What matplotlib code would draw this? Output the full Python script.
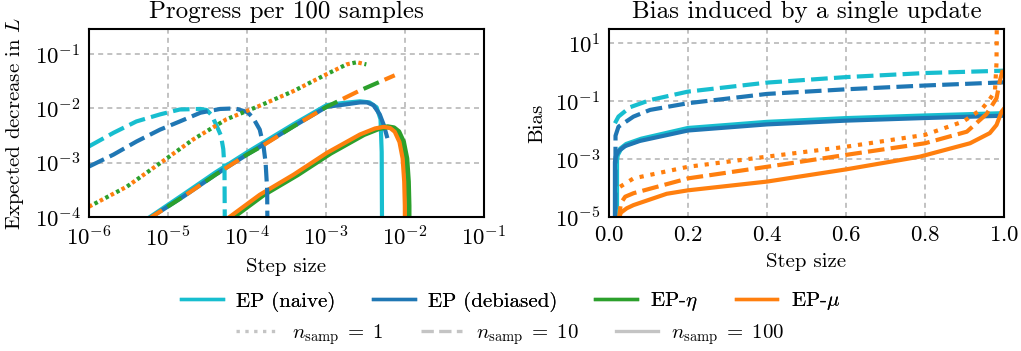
import matplotlib
matplotlib.use("Agg")
import matplotlib.pyplot as plt
from matplotlib.lines import Line2D

# =========================
# DATA
# =========================

# left panel: progress per 100 samples (step size, expected decrease in L)
naive_10_x = [1.0e-6, 2.04e-6, 3.98e-6, 7.94e-6, 1.41e-5, 2.57e-5, 3.09e-5, 3.55e-5,
              4.07e-5, 4.68e-5, 5.01e-5, 5.19e-5, 5.25e-5]
naive_10_y = [2.0e-3, 3.55e-3, 5.75e-3, 7.76e-3, 9.55e-3, 9.77e-3, 9.33e-3, 7.59e-3,
              5.01e-3, 3.16e-3, 1.78e-3, 7.9e-4, 3.2e-5]

debiased_10_x = [1.0e-6, 2.04e-6, 3.98e-6, 7.94e-6, 1.41e-5, 2.57e-5, 4.57e-5, 7.08e-5,
                 1.02e-4, 1.20e-4, 1.45e-4, 1.62e-4, 1.72e-4, 1.80e-4, 1.82e-4]
debiased_10_y = [8.5e-4, 1.41e-3, 2.45e-3, 4.07e-3, 5.75e-3, 8.32e-3, 9.77e-3, 1.0e-2,
                 8.51e-3, 6.61e-3, 4.07e-3, 2.0e-3, 1.0e-3, 3.16e-4, 3.2e-5]

naive_100_x = [5.37e-6, 1.58e-5, 3.98e-5, 1.0e-4, 3.89e-4, 1.02e-3, 1.66e-3, 2.69e-3,
               3.55e-3, 4.37e-3, 4.90e-3, 5.07e-3, 5.13e-3]
naive_100_y = [9.1e-5, 2.63e-4, 6.61e-4, 1.55e-3, 5.13e-3, 1.15e-2, 1.26e-2, 1.35e-2,
               1.29e-2, 1.05e-2, 6.31e-3, 1.58e-3, 3.2e-5]

debiased_100_x = [5.6e-6, 1.58e-5, 3.98e-5, 1.0e-4, 3.89e-4, 1.02e-3, 1.66e-3, 2.69e-3,
                  3.31e-3, 3.98e-3, 4.79e-3, 5.37e-3, 5.89e-3]
debiased_100_y = [9.1e-5, 2.4e-4, 6.0e-4, 1.41e-3, 4.68e-3, 1.07e-2, 1.17e-2, 1.29e-2,
                  1.29e-2, 1.15e-2, 7.76e-3, 5.01e-3, 3.09e-3]

# EP-eta and EP-mu give the same curve for 1 and 10 samples
eta_mu_1_x = [1.0e-6, 3.02e-6, 7.94e-6, 2.09e-5, 5.5e-5, 1.45e-4, 3.89e-4, 1.02e-3,
              1.82e-3, 2.45e-3, 3.24e-3]
eta_mu_1_y = [1.55e-4, 3.63e-4, 9.8e-4, 2.69e-3, 6.31e-3, 1.12e-2, 2.09e-2, 4.27e-2,
              6.46e-2, 7.08e-2, 6.46e-2]

eta_mu_10_x = [5.6e-6, 1.58e-5, 3.98e-5, 1.0e-4, 1.45e-4, 3.89e-4, 1.02e-3, 2.69e-3, 7.41e-3]
eta_mu_10_y = [9.1e-5, 2.4e-4, 6.0e-4, 1.41e-3, 1.91e-3, 4.68e-3, 1.07e-2, 2.14e-2, 4.07e-2]

mu_100_x = [5.5e-5, 1.45e-4, 3.89e-4, 1.02e-3, 2.69e-3, 4.17e-3, 5.37e-3, 6.46e-3, 7.41e-3,
            8.51e-3, 9.33e-3, 9.77e-3, 9.95e-3, 1.0e-2]
mu_100_y = [9.1e-5, 2.57e-4, 6.03e-4, 1.51e-3, 3.31e-3, 4.27e-3, 4.57e-3, 4.37e-3, 3.72e-3,
            2.4e-3, 1.2e-3, 4.5e-4, 1.6e-4, 3.2e-5]

eta_100_x = [6.17e-5, 1.62e-4, 4.37e-4, 1.15e-3, 3.02e-3, 4.68e-3, 6.03e-3, 7.24e-3, 8.32e-3,
             9.55e-3, 1.05e-2, 1.10e-2, 1.12e-2, 1.12e-2]
eta_100_y = [9.1e-5, 2.57e-4, 6.03e-4, 1.51e-3, 3.31e-3, 4.27e-3, 4.57e-3, 4.37e-3, 3.72e-3,
             2.4e-3, 1.2e-3, 4.5e-4, 1.6e-4, 3.2e-5]

# right panel: bias induced by a single update
bias_naive_10_x = [0.015, 0.024, 0.053, 0.104, 0.2, 0.4, 0.6, 0.8, 1.0]
bias_naive_10_y = [1.70e-2, 2.88e-2, 6.03e-2, 0.107, 0.209, 0.427, 0.661, 0.912, 1.10]

bias_debiased_10_x = [0.016, 0.0165, 0.024, 0.062, 0.104, 0.2, 0.4, 0.6, 0.8, 1.0]
bias_debiased_10_y = [3.0e-6, 6.3e-3, 1.29e-2, 2.88e-2, 4.9e-2, 8.32e-2, 0.174, 0.251, 0.339, 0.437]

bias_naive_100_x = [0.019, 0.019, 0.021, 0.029, 0.044, 0.082, 0.2, 0.4, 0.6, 0.8, 1.0]
bias_naive_100_y = [3.2e-6, 8.9e-4, 1.38e-3, 2.19e-3, 3.16e-3, 4.79e-3, 1.12e-2, 1.82e-2,
                    2.45e-2, 3.02e-2, 3.63e-2]

bias_debiased_100_x = [0.015, 0.015, 0.017, 0.025, 0.040, 0.078, 0.2, 0.4, 0.6, 0.8, 1.0]
bias_debiased_100_y = [3.2e-6, 7.9e-4, 1.2e-3, 1.9e-3, 2.75e-3, 4.17e-3, 9.55e-3, 1.55e-2,
                       2.09e-2, 2.57e-2, 3.09e-2]

bias_mu_1_x = [0.028, 0.062, 0.2, 0.4, 0.6, 0.8, 0.897, 0.943, 0.960, 0.977, 0.981, 0.982]
bias_mu_1_y = [1.1e-4, 2.14e-4, 5.37e-4, 1.2e-3, 2.63e-3, 6.76e-3, 1.95e-2, 5.13e-2,
               9.55e-2, 0.209, 2.0, 100.0]

bias_mu_10_x = [0.024, 0.030, 0.041, 0.062, 0.2, 0.4, 0.6, 0.8, 0.906, 0.956, 0.981, 0.990, 0.997]
bias_mu_10_y = [6.3e-6, 3.0e-5, 5.0e-5, 6.6e-5, 2.14e-4, 5.37e-4, 1.38e-3, 3.47e-3,
                8.7e-3, 3.55e-2, 0.123, 0.525, 1.17]

bias_mu_100_x = [0.024, 0.030, 0.045, 0.062, 0.146, 0.2, 0.4, 0.6, 0.787, 0.914, 0.964,
                 0.981, 0.994, 0.998]
bias_mu_100_y = [7.9e-6, 1.41e-5, 2.0e-5, 2.57e-5, 6.3e-5, 8.3e-5, 1.66e-4, 4.37e-4,
                 1.2e-3, 3.47e-3, 7.76e-3, 1.48e-2, 4.27e-2, 5.0e-2]

method_labels = ["EP (naive)", "EP (debiased)", r"EP-$\eta$", r"EP-$\mu$"]
sample_labels = [r"$n_\mathrm{samp}\;=\;1$", r"$n_\mathrm{samp}\;=\;10$",
                 r"$n_\mathrm{samp}\;=\;100$"]

left_xticks = [1e-6, 1e-5, 1e-4, 1e-3, 1e-2, 1e-1]
left_yticks = [1e-4, 1e-3, 1e-2, 1e-1]
right_xticks = [0.0, 0.2, 0.4, 0.6, 0.8, 1.0]
right_yticks = [1e-5, 1e-3, 1e-1, 1e1]

# =========================
# STYLE
# =========================
CYAN = "#17becf"
BLUE = "#1f77b4"
GREEN = "#2ca02c"
ORANGE = "#ff7f0e"
GRAY = "#c4c4c4"
LW = 2.0
LW_WIDE = 2.5   # lines drawn underneath a twin curve

plt.rcParams["font.family"] = "serif"
plt.rcParams["font.serif"] = ["cmr10"]
plt.rcParams["mathtext.fontset"] = "cm"
plt.rcParams["axes.formatter.use_mathtext"] = True
plt.rcParams["font.size"] = 10
plt.rcParams["axes.unicode_minus"] = False

DASH = (0, (4.0, 1.5))
DASH_A = (0, (4.0, 7.0))
DASH_B = (5.5, (4.0, 7.0))
DOT_A = (0, (0.85, 2.1))
DOT_B = (1.45, (0.85, 2.1))


def style_axis(ax):
    ax.grid(True, color="#b8b8b8", linestyle=(0, (3, 2.5)), linewidth=0.8)
    ax.set_axisbelow(True)
    ax.minorticks_off()
    ax.tick_params(length=0, pad=4.0, labelsize=11)
    for s in ax.spines.values():
        s.set_linewidth(1.0)
        s.set_color("black")


fig = plt.figure(figsize=(1021 / 150, 351 / 150), dpi=150)
ax1 = fig.add_axes([89 / 1021, 134 / 351, 395 / 1021, 188 / 351])
ax2 = fig.add_axes([609 / 1021, 134 / 351, 395 / 1021, 188 / 351])

# =========================
# LEFT PANEL
# =========================
ax1.plot(naive_100_x, naive_100_y, color=CYAN, lw=LW)
ax1.plot(debiased_100_x, debiased_100_y, color=BLUE, lw=LW)
ax1.plot(eta_100_x, eta_100_y, color=GREEN, lw=LW_WIDE)
ax1.plot(mu_100_x, mu_100_y, color=ORANGE, lw=LW)
ax1.plot(naive_10_x, naive_10_y, color=CYAN, lw=LW, linestyle=DASH)
ax1.plot(debiased_10_x, debiased_10_y, color=BLUE, lw=LW, linestyle=DASH)
ax1.plot(eta_mu_10_x, eta_mu_10_y, color=ORANGE, lw=LW, linestyle=DASH_A)
ax1.plot(eta_mu_10_x, eta_mu_10_y, color=GREEN, lw=LW, linestyle=DASH_B)
ax1.plot(eta_mu_1_x, eta_mu_1_y, color=ORANGE, lw=LW, linestyle=DOT_A)
ax1.plot(eta_mu_1_x, eta_mu_1_y, color=GREEN, lw=LW, linestyle=DOT_B)

ax1.set_xscale("log")
ax1.set_yscale("log")
ax1.set_xlim(1e-6, 1e-1)
ax1.set_ylim(1e-4, 0.29)
ax1.set_xticks(left_xticks)
ax1.set_yticks(left_yticks)
style_axis(ax1)
ax1.set_title("Progress per 100 samples", pad=5.5)
ax1.set_xlabel("Step size")
ax1.set_ylabel(r"Expected decrease in $L$")

# =========================
# RIGHT PANEL
# =========================
ax2.plot(bias_naive_100_x, bias_naive_100_y, color=CYAN, lw=LW_WIDE)
ax2.plot(bias_debiased_100_x, bias_debiased_100_y, color=BLUE, lw=LW)
ax2.plot(bias_mu_100_x, bias_mu_100_y, color=ORANGE, lw=LW)
ax2.plot(bias_naive_10_x, bias_naive_10_y, color=CYAN, lw=LW, linestyle=DASH)
ax2.plot(bias_debiased_10_x, bias_debiased_10_y, color=BLUE, lw=LW, linestyle=DASH)
ax2.plot(bias_mu_10_x, bias_mu_10_y, color=ORANGE, lw=LW, linestyle=DASH)
ax2.plot(bias_mu_1_x, bias_mu_1_y, color=ORANGE, lw=LW, linestyle=(0, (1, 1.65)))

ax2.set_yscale("log")
ax2.set_xlim(0, 1)
ax2.set_ylim(1e-5, 30)
ax2.set_xticks(right_xticks)
ax2.set_yticks(right_yticks)
style_axis(ax2)
ax2.set_title("Bias induced by a single update", pad=5.5)
ax2.set_xlabel("Step size")
ax2.set_ylabel("Bias")

# =========================
# LEGENDS
# =========================
method_colors = [CYAN, BLUE, GREEN, ORANGE]
h1 = [Line2D([], [], color=c, lw=1.6) for c in method_colors]
h2 = [Line2D([], [], color=GRAY, lw=1.6, linestyle=ls) for ls in [":", "--", "-"]]

leg1 = fig.legend(h1, method_labels, loc="center", bbox_to_anchor=(0.5, 0.14),
                  ncol=4, frameon=False, handlelength=2.0, handletextpad=0.65,
                  columnspacing=1.8, borderpad=0, borderaxespad=0)
fig.add_artist(leg1)
fig.legend(h2, sample_labels, loc="center", bbox_to_anchor=(0.5, 0.046),
           ncol=3, frameon=False, handlelength=2.0, handletextpad=0.65,
           columnspacing=1.8, borderpad=0, borderaxespad=0)

fig.savefig("out.png", dpi=150)
